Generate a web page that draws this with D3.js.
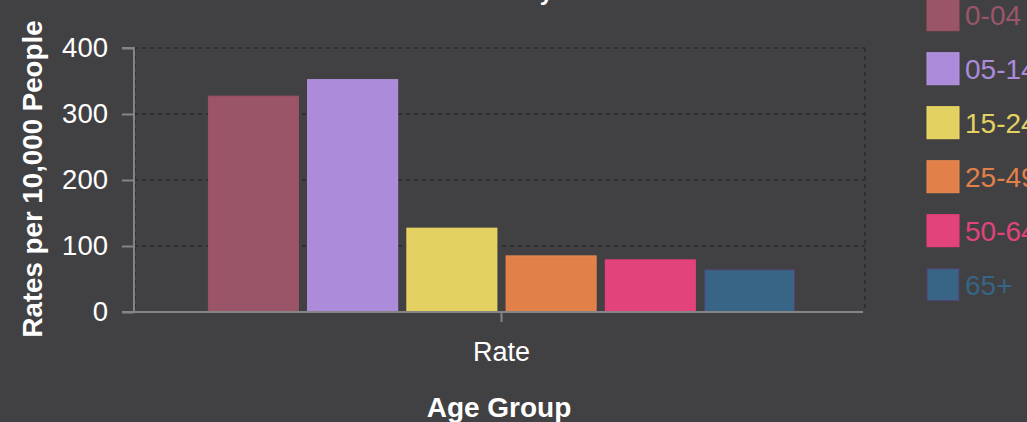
<!DOCTYPE html>
<html>
<head>
<meta charset="utf-8">
<script src="https://cdn.jsdelivr.net/npm/d3@7"></script>
<style>
  html, body { margin: 0; padding: 0; background: #414143; }
  svg { display: block; font-family: "Liberation Sans", Arial, sans-serif; }
</style>
</head>
<body>
<svg id="chart" width="1027" height="422"></svg>
<script>
const groups = ["Rate"];
const ageGroups = ["0-04", "05-14", "15-24", "25-49", "50-64", "65+"];
const rates = [327, 352, 127, 85, 79, 64];
const colors = ["#9a5668", "#ad8bdb", "#e3d262", "#e2804a", "#e2437a", "#386486"];
const strokes = ["#a4505f", "#b994e6", "#f0dc66", "#ec8a4f", "#ed3f7c", "#553f6d"];
const yTicks = [0, 100, 200, 300, 400];

const svg = d3.select("#chart");
const plotLeft = 134, plotRight = 865, plotTop = 48, plotBottom = 312;

const x0 = d3.scaleBand().domain(groups).range([plotLeft + 2, plotRight + 2]).padding(0.11);
const x1 = d3.scaleBand().domain(ageGroups).range([0, x0.bandwidth()]).paddingInner(0.093);
const y = d3.scaleLinear().domain([0, 400]).range([plotBottom, plotTop]);

// title (mostly off the top edge)
svg.append("text")
    .attr("x", 453).attr("y", 0)
    .attr("fill", "#fff")
    .attr("font-size", 24).attr("font-weight", "bold")
    .text("Rates by Area");

// grid
const grid = svg.append("g").attr("stroke", "#2f2f31").attr("stroke-width", 2).attr("stroke-dasharray", "4,4");
grid.selectAll(".h").data(yTicks.slice(1)).enter().append("line")
    .attr("x1", plotLeft).attr("x2", plotRight)
    .attr("y1", d => y(d)).attr("y2", d => y(d));
grid.selectAll(".v").data([plotLeft + 1, plotRight]).enter().append("line")
    .attr("x1", d => d).attr("x2", d => d)
    .attr("y1", plotTop).attr("y2", plotBottom);

// bars
svg.append("g").selectAll("rect")
    .data(rates)
    .enter().append("rect")
    .attr("x", (d, i) => x0("Rate") + x1(ageGroups[i]))
    .attr("y", d => y(d))
    .attr("width", x1.bandwidth())
    .attr("height", d => y(0) - y(d))
    .attr("fill", (d, i) => colors[i])
    .attr("stroke", (d, i) => strokes[i])
    .attr("stroke-width", 1);

// y axis
const yAxis = svg.append("g")
    .attr("transform", `translate(${plotLeft},0)`)
    .call(d3.axisLeft(y).tickValues(yTicks).tickSize(12).tickPadding(14));
yAxis.selectAll("path, line").attr("stroke", "#858585").attr("stroke-width", 2);
yAxis.select(".domain").attr("d", `M-12,${plotTop}H0V${plotBottom}`);
yAxis.selectAll("text").attr("fill", "#fff").attr("font-size", 27.5)
    .attr("font-family", "Liberation Sans, Arial, sans-serif");

// x axis
const xAxis = svg.append("g")
    .attr("transform", `translate(0,${plotBottom})`)
    .call(d3.axisBottom(x0).tickSize(10).tickPadding(20));
xAxis.select(".domain").attr("d", `M${plotLeft - 12},0H${plotRight - 2}`);
xAxis.selectAll("path, line").attr("stroke", "#858585").attr("stroke-width", 2);
xAxis.selectAll("text").attr("fill", "#fff").attr("font-size", 27)
    .attr("font-family", "Liberation Sans, Arial, sans-serif");

// axis titles
svg.append("text")
    .attr("x", 499).attr("y", 417)
    .attr("text-anchor", "middle")
    .attr("fill", "#fff").attr("font-size", 28).attr("font-weight", "bold")
    .text("Age Group");

svg.append("text")
    .attr("transform", `translate(42,${(plotTop + plotBottom) / 2 - 1}) rotate(-90)`)
    .attr("text-anchor", "middle")
    .attr("fill", "#fff").attr("font-size", 27.7).attr("font-weight", "bold")
    .text("Rates per 10,000 People");

// legend
const legend = svg.append("g").selectAll("g")
    .data(ageGroups)
    .enter().append("g")
    .attr("transform", (d, i) => `translate(927,${-1.3 + i * 54})`);
legend.append("rect")
    .attr("width", 32).attr("height", 32)
    .attr("fill", (d, i) => colors[i])
    .attr("stroke", (d, i) => strokes[i]).attr("stroke-width", 1);
legend.append("text")
    .attr("x", 38).attr("y", 16).attr("dy", "0.36em")
    .attr("fill", (d, i) => colors[i])
    .attr("font-size", 28)
    .text(d => d);
</script>
</body>
</html>
